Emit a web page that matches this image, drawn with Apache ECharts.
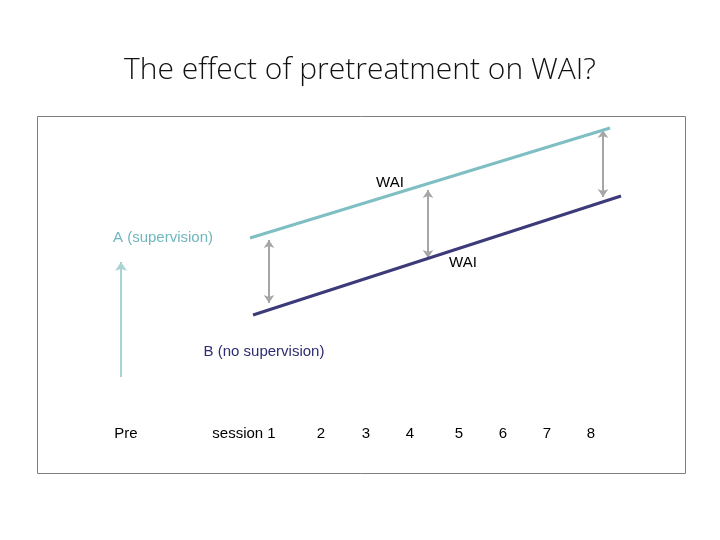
<!DOCTYPE html><html><head><meta charset="utf-8">
<script src="https://cdn.jsdelivr.net/npm/echarts@6/dist/echarts.min.js"></script>
<style>html,body{margin:0;background:#fff}#c{width:720px;height:540px}</style></head><body><div id="c"></div>
<script>
// diagram coordinates (x: horizontal units, y: vertical units, downward)
const lineA = [[250,238],[610,128]];
const lineB = [[253,315],[621,196]];
const gapArrows = [[[269,240],[269,303]],[[428,190],[428,258]],[[603,130],[603,197]]];
const upArrow = [[121,377],[121,262]];
const tickLabels = ['Pre','session 1','2','3','4','5','6','7','8'];
const tickX = [126,244,321,366,410,459,503,547,591];
const tickY = 434;
const textLabels = [
  {name:'WAI', pos:[390,183], color:'#000000'},
  {name:'A (supervision)', pos:[163,238], color:'#6fb7bc'},
  {name:'WAI', pos:[463,263], color:'#000000'},
  {name:'B (no supervision)', pos:[264,352], color:'#2f2c72'}
];
const ch = echarts.init(document.getElementById('c'));
const font = '"Liberation Sans", Arial, sans-serif';
const lbl = {show:true,position:'inside',formatter:'{b}',fontFamily:font,fontSize:15,color:'#000000',opacity:1,textBorderWidth:0};
ch.setOption({
  animation:false,
  title:{text:'The effect of pretreatment on WAI?',left:'center',top:50,
    textStyle:{fontFamily:'"Open Sans", sans-serif',fontWeight:300,fontSize:30,color:'#111'}},
  grid:{left:0,top:0,width:720,height:540},
  xAxis:{type:'value',min:0,max:720,show:false},
  yAxis:{type:'value',min:0,max:540,inverse:true,show:false},
  graphic:[{type:'rect',shape:{x:37.5,y:116.5,width:648,height:357},style:{fill:'none',stroke:'#7f7f7f',lineWidth:1}}],
  series:[
    {type:'line',data:lineA,symbol:'none',lineStyle:{color:'#7fbfc3',width:3}},
    {type:'line',data:lineB,symbol:'none',lineStyle:{color:'#3d3a7a',width:3}},
    {type:'lines',coordinateSystem:'cartesian2d',symbol:['arrow','arrow'],symbolSize:8,
      lineStyle:{color:'#a6a6a6',width:2,opacity:1},data:gapArrows.map(c=>({coords:c}))},
    {type:'lines',coordinateSystem:'cartesian2d',symbol:['none','arrow'],symbolSize:9,
      lineStyle:{color:'#a9d3d3',width:2,opacity:1},data:[{coords:upArrow}]},
    {type:'scatter',symbolSize:0,itemStyle:{opacity:1},data:tickLabels.map((t,i)=>({name:t,value:[tickX[i],tickY]})),
      label:lbl},
    {type:'scatter',symbolSize:0,itemStyle:{opacity:1},data:textLabels.map(t=>({name:t.name,value:t.pos,label:Object.assign({},lbl,{color:t.color})})),
      label:lbl}
  ]
});
</script></body></html>
